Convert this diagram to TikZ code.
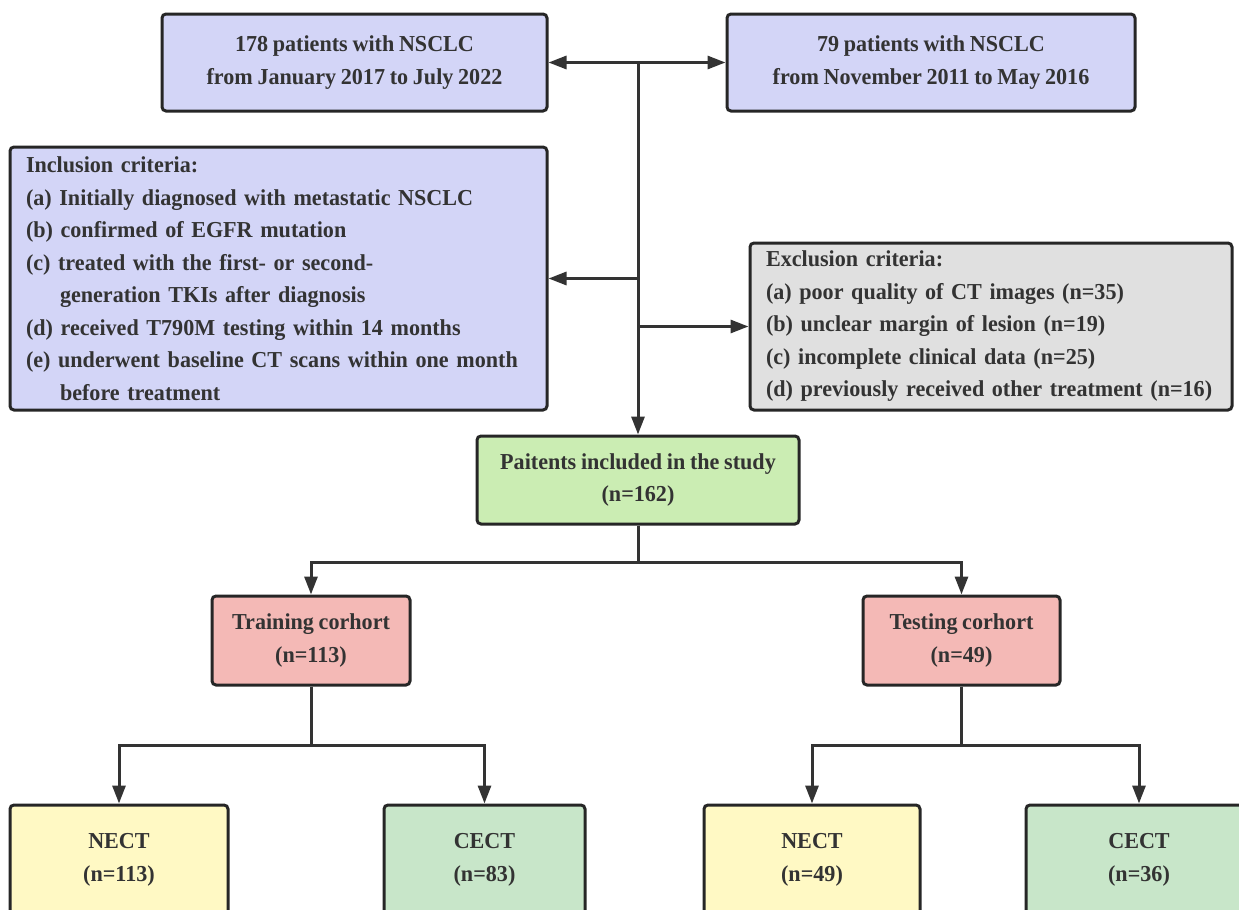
\documentclass[tikz,border=0pt]{standalone}
\usepackage{fontspec}
\setmainfont{Liberation Serif}[FakeStretch=0.97, WordSpace=0.85]
\usepackage{xcolor}
\usetikzlibrary{arrows.meta}

\definecolor{txtgray}{HTML}{333333}
\definecolor{edgegray}{HTML}{262626}
\definecolor{lavender}{HTML}{D3D5F7}
\definecolor{lightgray}{HTML}{E0E0E0}
\definecolor{lightgreen}{HTML}{CBEDB3}
\definecolor{lightpink}{HTML}{F4B9B6}
\definecolor{lightyellow}{HTML}{FFF9C4}
\definecolor{mint}{HTML}{C8E6C9}

\tikzset{
  box/.style={draw=edgegray, line width=1.5pt, rounded corners=2pt,
    text=txtgray, align=center, inner sep=0pt,
    font=\bfseries\fontsize{11.4}{16.25}\selectfont},
  listbox/.style={box, align=left, inner xsep=8pt},
  arr/.style={draw=txtgray, line width=1.5pt,
    -{Triangle[length=9pt,width=6.5pt]}},
  biarr/.style={draw=txtgray, line width=1.5pt,
    {Triangle[length=9pt,width=6.5pt]}-{Triangle[length=9pt,width=6.5pt]}},
}

\begin{document}
\begin{tikzpicture}[x=0.5pt, y=-0.5pt]
        \clip (0,0) rectangle (1239,910);

        % Sources
        \node[box, fill=lavender, minimum width=192.5pt, minimum height=48.5pt]
            (early) at (354.5,62.5) {178 patients with NSCLC\\from January 2017 to July 2022};
        \node[box, fill=lavender, minimum width=204pt, minimum height=48.5pt]
            (late) at (931,62.5) {79 patients with NSCLC\\from November 2011 to May 2016};

        % Criteria
        \node[listbox, fill=lavender, text width=252.5pt, minimum height=131.5pt]
            (inclusion) at (278.5,278.5) {Inclusion criteria:\\
            (a) Initially diagnosed with metastatic NSCLC\\
            (b) confirmed of EGFR mutation\\
            (c) treated with the first- or second-\\
            \hspace*{17pt}generation TKIs after diagnosis\\
            (d) received T790M testing within 14 months\\
            (e) underwent baseline CT scans within one month\\
            \hspace*{17pt}before treatment};
        \node[listbox, fill=lightgray, text width=225pt, minimum height=83.5pt]
            (exclusion) at (991,326.5) {Exclusion criteria:\\
            (a) poor quality of CT images (n=35)\\
            (b) unclear margin of lesion (n=19)\\
            (c) incomplete clinical data (n=25)\\
            (d) previously received other treatment (n=16)};

        % Study population
        \node[box, fill=lightgreen, minimum width=161pt, minimum height=44pt]
            (study) at (638,480) {Paitents included in the study\\(n=162)};

        % Cohorts
        \node[box, fill=lightpink, minimum width=99pt, minimum height=44.5pt]
            (training) at (311,640.5) {Training corhort\\(n=113)};
        \node[box, fill=lightpink, minimum width=98.5pt, minimum height=44.5pt]
            (testing) at (961.5,640.5) {Testing corhort\\(n=49)};

        % Scan types
        \node[box, fill=lightyellow, minimum width=109pt, minimum height=55pt]
            (trainNECT) at (119,860) {NECT\\(n=113)};
        \node[box, fill=mint, minimum width=100.5pt, minimum height=55pt]
            (trainCECT) at (484.5,860) {CECT\\(n=83)};
        \node[box, fill=lightyellow, minimum width=108pt, minimum height=55pt]
            (testNECT) at (812,860) {NECT\\(n=49)};
        \node[box, fill=mint, minimum width=113pt, minimum height=55pt]
            (testCECT) at (1139,860) {CECT\\(n=36)};

        % Connectors
        \coordinate (hub) at (early.east -| study.north);
        \draw[biarr] (early.east) -- (late.west);
        \draw[arr] (hub) -- (study.north);
        \draw[arr] (hub |- inclusion.east) -- (inclusion.east);
        \draw[arr] (hub |- exclusion.west) -- (exclusion.west);

        \draw[arr] (study.south) -- ++(0,37) -| (training.north);
        \draw[arr] (study.south) -- ++(0,37) -| (testing.north);

        \draw[arr] (training.south) -- ++(0,59) -| (trainNECT.north);
        \draw[arr] (training.south) -- ++(0,59) -| (trainCECT.north);
        \draw[arr] (testing.south) -- ++(0,59) -| (testNECT.north);
        \draw[arr] (testing.south) -- ++(0,59) -| (testCECT.north);
\end{tikzpicture}
\end{document}
